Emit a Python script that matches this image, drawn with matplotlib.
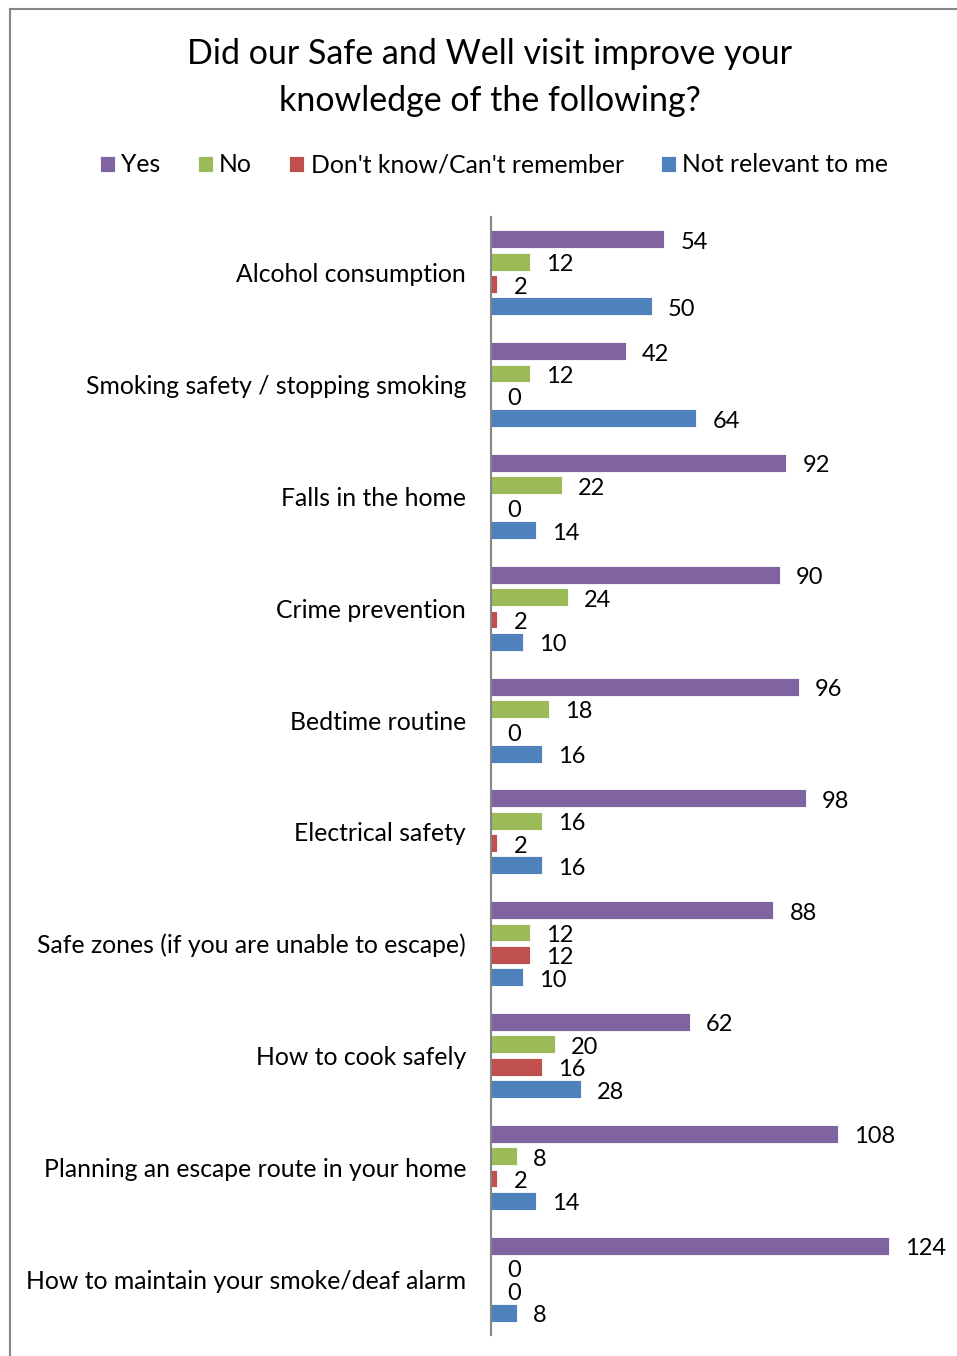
import numpy as np
import matplotlib.pyplot as plt
from matplotlib.patches import Rectangle

plt.rcParams['font.family'] = ['Lato', 'DejaVu Sans']

topics = [
    "Alcohol consumption",
    "Smoking safety / stopping smoking",
    "Falls in the home",
    "Crime prevention",
    "Bedtime routine",
    "Electrical safety",
    "Safe zones (if you are unable to escape)",
    "How to cook safely",
    "Planning an escape route in your home",
    "How to maintain your smoke/deaf alarm",
]
series_names = ["Yes", "No", "Don't know/Can't remember", "Not relevant to me"]
yes = [54, 42, 92, 90, 96, 98, 88, 62, 108, 124]
no = [12, 12, 22, 24, 18, 16, 12, 20, 8, 0]
dont_know = [2, 0, 0, 2, 0, 2, 12, 16, 2, 0]
not_relevant = [50, 64, 14, 10, 16, 16, 10, 28, 14, 8]
colours = ["#8064A2", "#9BBB59", "#C0504D", "#4F81BD"]

W, H = 957, 1356
fig = plt.figure(figsize=(W / 100, H / 100), dpi=100)
ax = fig.add_axes([491 / W, 21 / H, 450 / W, 1118 / H])

y = np.arange(len(topics))
slot = 0.2
offsets = [-1.5 * slot, -0.5 * slot, 0.5 * slot, 1.5 * slot]
handles = []
for vals, off, col, name in zip([yes, no, dont_know, not_relevant], offsets, colours, series_names):
    bars = ax.barh(y + off, vals, height=slot * 0.8, color=col, label=name,
                   edgecolor='white', linewidth=0.6)
    handles.append(bars)
    for yy, v in zip(y + off, vals):
        ax.annotate(str(v), (v, yy), xytext=(16, -3), textcoords='offset pixels',
                    va='center', ha='left', fontsize=17, color='black')

ax.set_xlim(0, 450 / 3.21)
ax.set_ylim(len(topics) - 0.5, -0.5)
ax.set_yticks(y)
ax.set_yticklabels(topics, fontsize=17.8)
ax.tick_params(axis='y', length=0, pad=18)
ax.set_xticks([])
for side in ['top', 'right', 'bottom']:
    ax.spines[side].set_visible(False)
ax.spines['left'].set_color('#868686')
ax.spines['left'].set_linewidth(1.5)

fig.text(490 / W, 1 - 77.5 / H, "Did our Safe and Well visit improve your\nknowledge of the following?",
         ha='center', va='center', fontsize=24.5, linespacing=1.55)

fig.legend(handles=handles, loc='center', bbox_to_anchor=(494 / W, 1 - 165 / H), ncol=4,
           frameon=False, fontsize=17.8, handlelength=0.62, handleheight=0.62,
           handletextpad=0.25, columnspacing=1.5)

# outer chart frame, running off the right and bottom edges
fig.patches.append(Rectangle((9.5 / W, -0.05), 1.2, 1.05 - 9.5 / H, transform=fig.transFigure,
                             fill=False, edgecolor='#868686', linewidth=1.5))

fig.savefig("out.png", dpi=100)
